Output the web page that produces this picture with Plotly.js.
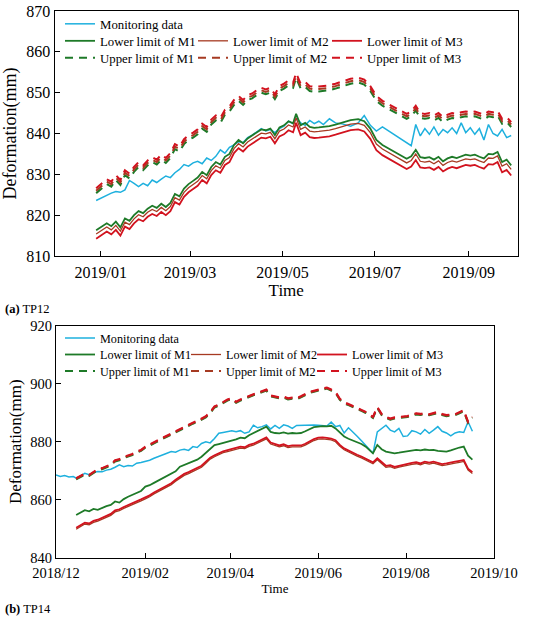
<!DOCTYPE html>
<html><head><meta charset="utf-8">
<script src="https://cdn.plot.ly/plotly-3.0.1.min.js"></script>
<style>html,body{margin:0;padding:0;background:#fff}#chart{width:550px;height:618px}</style>
</head><body><div id="chart"></div>
<script>
// ---------- Panel (a) TP12 ----------
const datesA = ["2018-12-29",
"2019-01-02","2019-01-05","2019-01-08","2019-01-11","2019-01-14","2019-01-17","2019-01-20","2019-01-23","2019-01-26","2019-01-29",
"2019-02-01","2019-02-04","2019-02-07","2019-02-10","2019-02-13","2019-02-16","2019-02-19","2019-02-22","2019-02-25","2019-02-28",
"2019-03-03","2019-03-06","2019-03-09","2019-03-12","2019-03-15","2019-03-18","2019-03-21","2019-03-24","2019-03-27","2019-03-30",
"2019-04-02","2019-04-05","2019-04-08","2019-04-11","2019-04-14","2019-04-17","2019-04-20","2019-04-23","2019-04-26","2019-04-29",
"2019-05-02","2019-05-05","2019-05-08","2019-05-10","2019-05-13","2019-05-16","2019-05-19","2019-05-22","2019-05-25","2019-05-28",
"2019-06-01","2019-06-05","2019-06-10","2019-06-15","2019-06-20","2019-06-24","2019-06-28",
"2019-07-02","2019-07-06","2019-07-10","2019-07-14","2019-07-18","2019-07-22","2019-07-25","2019-07-28","2019-07-31",
"2019-08-03","2019-08-06","2019-08-09","2019-08-12","2019-08-15","2019-08-18","2019-08-21","2019-08-24","2019-08-27","2019-08-30",
"2019-09-02","2019-09-05","2019-09-08","2019-09-11","2019-09-14","2019-09-17","2019-09-20","2019-09-23","2019-09-26","2019-09-29"];

const monA = [823.6,824.4,825.0,825.4,825.8,825.6,826.2,828.5,827.8,827.0,
827.8,827.2,828.6,828.0,828.8,829.6,829.2,830.4,831.2,832.4,
832.0,832.8,833.2,832.6,834.0,833.4,834.4,836.0,835.2,836.6,
837.2,838.0,837.8,839.0,839.6,840.4,841.2,840.6,841.0,840.2,
841.2,841.8,843.0,842.4,843.8,842.6,842.0,843.2,842.4,843.0,
842.2,843.6,842.6,842.3,841.8,842.6,844.4,842.0,840.6,841.6,
840.6,839.7,838.7,837.7,837.0,842.2,839.4,841.2,839.8,841.6,
839.6,841.0,840.2,841.4,840.0,842.6,840.2,841.4,839.8,841.2,
838.4,842.2,840.0,839.4,841.0,839.0,839.5];

const lowM1A = [816.3,817.2,818.0,817.3,818.4,817.0,819.2,818.6,820.0,821.0,
820.5,821.6,822.3,821.8,822.8,822.0,823.0,825.2,824.6,826.5,
827.6,828.4,829.2,830.6,829.8,831.8,833.0,832.4,834.3,835.0,
837.2,838.4,837.6,838.8,839.5,840.3,841.0,840.8,841.2,839.6,
841.5,842.0,843.0,842.5,844.8,842.0,842.6,841.6,841.4,841.5,
841.6,841.8,842.2,842.7,843.3,843.5,843.0,841.2,838.4,837.2,
836.3,835.4,834.5,833.8,834.4,836.0,834.2,834.0,834.2,833.6,
834.3,833.2,833.9,834.3,834.0,834.5,834.8,834.6,834.8,834.3,
833.9,835.0,834.9,835.5,833.0,833.6,832.2];

const lowM2A = [815.4,816.3,817.1,816.4,817.5,816.1,818.3,817.7,819.1,820.1,
819.6,820.7,821.4,820.9,821.9,821.1,822.1,824.3,823.7,825.6,
826.7,827.5,828.3,829.7,828.9,830.9,832.1,831.5,833.4,834.1,
836.3,837.5,836.7,837.9,838.6,839.4,840.1,839.9,840.3,838.7,
840.6,841.1,842.1,841.6,843.8,841.0,841.6,840.6,840.4,840.5,
840.6,840.8,841.2,841.7,842.3,842.5,842.0,840.2,837.4,836.2,
835.3,834.4,833.5,832.8,833.4,835.0,833.2,833.0,833.2,832.6,
833.3,832.2,832.9,833.3,833.0,833.5,833.8,833.6,833.8,833.3,
832.9,834.0,833.9,834.5,832.0,832.6,831.2];

const lowM3A = [814.2,815.2,816.0,815.3,816.4,815.0,817.2,816.6,818.0,819.0,
818.5,819.6,820.3,819.8,820.8,820.0,821.0,823.2,822.6,824.5,
825.6,826.4,827.2,828.6,827.8,829.8,831.0,830.4,832.3,833.0,
835.2,836.4,835.6,836.8,837.5,838.3,839.0,838.8,839.2,837.6,
839.3,839.8,840.8,840.3,842.6,839.6,840.2,839.1,838.9,839.0,
839.1,839.3,839.7,840.2,840.8,841.0,840.5,838.7,835.9,834.7,
833.8,832.9,832.0,831.3,831.9,833.5,831.7,831.5,831.7,831.1,
831.8,830.7,831.4,831.8,831.5,832.0,832.3,832.1,832.3,831.8,
831.4,832.5,832.4,833.0,830.5,831.1,829.7];

const upM1A = [825.4,826.6,827.6,827.0,828.6,827.4,829.8,829.0,830.6,831.8,
831.0,832.2,833.0,832.4,833.6,832.8,834.0,836.2,835.6,837.4,
838.4,839.0,839.8,841.2,840.4,842.2,843.2,842.6,844.6,845.4,
847.0,848.0,847.0,848.2,848.6,849.4,850.0,849.6,850.0,848.4,
850.4,851.0,851.8,851.2,853.6,851.0,851.4,850.4,850.2,850.3,
850.4,850.6,851.0,851.6,852.2,852.5,852.0,850.4,848.0,846.8,
846.0,845.2,844.4,843.6,844.2,845.6,843.8,843.6,843.8,843.2,
843.8,842.8,843.4,843.8,843.6,844.0,844.2,844.0,844.2,843.8,
843.4,844.2,844.0,844.4,842.4,842.8,841.6];

const upM2A = [826.0,827.2,828.2,827.6,829.2,828.0,830.4,829.6,831.2,832.4,
831.6,832.8,833.6,833.0,834.2,833.4,834.6,836.8,836.2,838.0,
839.0,839.6,840.4,841.8,841.0,842.8,843.8,843.2,845.2,846.0,
847.6,848.6,847.6,848.8,849.2,850.0,850.6,850.2,850.6,849.0,
851.0,851.6,852.4,851.8,854.2,851.6,852.0,851.0,850.8,850.9,
851.0,851.2,851.6,852.2,852.8,853.1,852.6,851.0,848.6,847.4,
846.6,845.8,845.0,844.2,844.8,846.2,844.4,844.2,844.4,843.8,
844.4,843.4,844.0,844.4,844.2,844.6,844.8,844.6,844.8,844.4,
844.0,844.8,844.6,845.0,843.0,843.4,842.2];

const upM3A = [826.6,827.8,828.8,828.2,829.8,828.6,831.0,830.2,831.8,833.0,
832.2,833.4,834.2,833.6,834.8,834.0,835.2,837.4,836.8,838.6,
839.6,840.2,841.0,842.4,841.6,843.4,844.4,843.8,845.8,846.6,
848.2,849.2,848.2,849.4,849.8,850.6,851.2,850.8,851.2,849.6,
851.6,852.2,853.0,852.4,854.8,852.2,852.6,851.6,851.4,851.5,
851.6,851.8,852.2,852.8,853.4,853.7,853.2,851.6,849.2,848.0,
847.2,846.4,845.6,844.8,845.4,846.8,845.0,844.8,845.0,844.4,
845.0,844.0,844.6,845.0,844.8,845.2,845.4,845.2,845.4,845.0,
844.6,845.4,845.2,845.6,843.6,844.0,842.8];

// ---------- Panel (b) TP14 ----------
const datesB = ["2018-12-15","2018-12-18","2018-12-21","2018-12-24","2018-12-27","2018-12-30",
"2019-01-02","2019-01-05","2019-01-08","2019-01-11","2019-01-14","2019-01-17","2019-01-20","2019-01-23","2019-01-26","2019-01-29",
"2019-02-01","2019-02-04","2019-02-07","2019-02-10","2019-02-13","2019-02-16","2019-02-19","2019-02-22","2019-02-25","2019-02-28",
"2019-03-03","2019-03-06","2019-03-09","2019-03-12","2019-03-15","2019-03-18","2019-03-21","2019-03-24","2019-03-27","2019-03-30",
"2019-04-02","2019-04-05","2019-04-08","2019-04-11","2019-04-14","2019-04-17","2019-04-20","2019-04-23","2019-04-26","2019-04-29",
"2019-05-02","2019-05-05","2019-05-08","2019-05-11","2019-05-14","2019-05-17","2019-05-20","2019-05-23","2019-05-26","2019-05-29",
"2019-06-01","2019-06-04","2019-06-07","2019-06-10","2019-06-13","2019-06-16","2019-06-19","2019-06-22","2019-06-25","2019-06-28",
"2019-07-01","2019-07-04","2019-07-07","2019-07-09","2019-07-12","2019-07-15","2019-07-18","2019-07-21","2019-07-24","2019-07-27","2019-07-30",
"2019-08-02","2019-08-05","2019-08-08","2019-08-11","2019-08-14","2019-08-17","2019-08-20","2019-08-23","2019-08-26","2019-08-29",
"2019-09-01","2019-09-04","2019-09-07","2019-09-10","2019-09-13","2019-09-16"];
const earlyMonDatesB = ["2018-12-01","2018-12-04","2018-12-07","2018-12-10","2018-12-13"];
const monDatesB = earlyMonDatesB.concat(datesB);

const monB = [868.5,868.0,868.3,867.8,868.0,
867.4,868.2,869.1,868.6,869.4,869.7,
869.6,870.2,870.5,871.2,872.0,871.4,871.8,871.6,872.6,872.8,
873.1,873.6,874.3,874.8,875.4,876.0,876.6,876.4,877.1,877.4,
877.0,878.3,878.0,879.4,880.0,879.6,881.1,882.9,883.2,883.6,
883.8,883.4,883.8,882.9,883.4,885.7,884.8,885.2,885.8,884.4,
885.6,884.6,885.8,885.4,884.6,885.6,885.7,885.7,885.7,885.8,
885.7,885.6,885.4,886.8,885.2,885.6,883.0,884.8,883.5,881.9,
880.3,878.7,877.1,876.0,883.4,884.6,885.7,884.0,883.4,884.6,881.8,
882.0,883.8,883.4,882.6,884.2,882.9,884.0,885.2,883.6,883.0,
882.0,883.0,883.4,883.2,886.9,883.6];

const lowM1B = [854.7,855.6,856.4,856.0,856.8,856.5,
857.2,857.8,858.2,859.4,859.0,860.2,861.0,861.6,862.4,863.0,
864.5,865.0,865.8,866.6,867.2,868.2,869.0,869.8,871.4,872.0,
872.5,873.2,873.8,874.8,876.2,877.4,878.8,879.2,879.6,879.9,
880.2,880.8,881.4,881.2,882.2,882.9,883.6,884.4,885.2,883.4,
883.0,882.9,883.2,882.8,883.0,882.9,883.0,883.6,884.4,885.0,
885.2,885.4,885.3,885.5,884.6,883.2,881.8,881.0,880.4,880.0,
879.2,878.3,877.0,876.0,878.9,877.4,876.6,876.4,876.0,876.2,876.4,
876.6,876.8,877.2,877.0,877.3,877.1,877.2,876.8,876.6,876.6,
877.0,877.6,878.0,878.3,875.2,873.8];

const lowM2B = [849.8,850.8,851.6,851.3,852.2,852.6,
853.2,854.0,854.6,855.8,856.2,857.0,857.6,858.2,859.0,859.6,
860.3,861.0,862.0,862.8,863.6,864.4,865.2,866.4,867.4,868.4,
869.0,869.8,870.6,871.2,872.6,874.0,874.8,875.6,876.2,876.6,
877.0,877.2,877.8,877.6,878.4,878.8,879.6,880.4,881.0,879.2,
878.8,878.2,878.6,878.0,878.2,878.1,878.2,878.8,879.6,880.4,
880.9,881.0,880.8,880.6,880.0,878.4,877.2,876.4,875.6,875.0,
874.4,873.6,872.8,872.4,873.8,872.4,871.2,871.4,870.8,871.2,871.6,
871.8,872.2,872.4,872.0,872.6,872.3,872.6,872.2,871.8,872.0,
872.4,872.6,872.9,873.2,870.2,869.0];

const lowM3B = [850.3,851.3,852.1,851.8,852.7,853.1,
853.7,854.5,855.1,856.3,856.7,857.5,858.1,858.7,859.5,860.1,
860.8,861.5,862.5,863.3,864.1,864.9,865.7,866.9,867.9,868.9,
869.5,870.3,871.1,871.7,873.1,874.5,875.3,876.1,876.7,877.1,
877.5,877.7,878.3,878.1,878.9,879.3,880.1,880.9,881.5,879.7,
879.3,878.7,879.1,878.5,878.7,878.6,878.7,879.3,880.1,880.9,
881.4,881.5,881.3,881.1,880.5,878.9,877.7,876.9,876.1,875.5,
874.9,874.1,873.3,872.9,874.3,872.9,871.7,871.9,871.3,871.7,872.1,
872.3,872.7,872.9,872.5,873.1,872.8,873.1,872.7,872.3,872.5,
872.9,873.1,873.4,873.7,870.7,869.5];

const upM1B = [867.0,867.8,868.6,868.2,869.2,870.2,
870.5,871.2,871.8,873.2,873.6,874.4,874.8,875.4,876.2,876.8,
877.9,878.6,879.4,880.2,881.0,881.6,882.4,883.2,884.0,884.8,
885.4,886.2,886.8,887.6,888.4,889.8,891.8,892.4,893.2,894.2,
894.6,893.4,894.2,894.9,895.4,896.0,896.6,897.0,897.6,895.6,
895.2,894.9,895.2,894.6,894.8,894.6,895.3,896.0,896.8,897.2,
897.6,898.0,898.3,897.6,896.8,894.4,893.2,892.6,892.0,891.2,
890.6,889.9,889.0,888.2,891.6,889.2,888.2,887.6,888.0,888.2,888.4,
888.5,889.0,889.4,889.2,889.5,889.1,889.6,889.9,889.2,888.8,
889.0,889.1,889.8,890.5,886.5,888.2];

const upM2B = [867.2,868.0,868.9,868.4,869.4,870.4,
870.8,871.4,872.0,873.4,873.9,874.6,875.0,875.6,876.4,877.0,
878.1,878.8,879.6,880.4,881.2,881.8,882.6,883.4,884.2,885.0,
885.6,886.4,887.0,887.8,888.6,890.0,892.0,892.6,893.4,894.4,
894.8,893.6,894.4,895.1,895.6,896.2,896.8,897.2,897.8,895.8,
895.4,895.1,895.4,894.8,895.0,894.8,895.5,896.2,897.0,897.4,
897.8,898.2,898.5,897.8,897.0,894.6,893.4,892.8,892.2,891.4,
890.8,890.1,889.2,888.4,891.8,889.4,888.4,887.8,888.2,888.4,888.6,
888.7,889.2,889.6,889.4,889.7,889.3,889.8,890.1,889.4,889.0,
889.2,889.3,890.0,890.7,886.7,888.4];

const upM3B = [867.4,868.2,869.0,868.6,869.6,870.6,
870.9,871.6,872.2,873.6,874.0,874.8,875.2,875.8,876.6,877.2,
878.3,879.0,879.8,880.6,881.4,882.0,882.8,883.6,884.4,885.2,
885.8,886.6,887.2,888.0,888.8,890.2,892.2,892.8,893.6,894.6,
895.0,893.8,894.6,895.3,895.8,896.4,897.0,897.4,898.0,896.0,
895.6,895.3,895.6,895.0,895.2,895.0,895.7,896.4,897.2,897.6,
898.0,898.4,898.7,898.0,897.2,894.8,893.6,893.0,892.4,891.6,
891.0,890.3,889.4,888.6,892.0,889.6,888.6,888.0,888.4,888.6,888.8,
888.9,889.4,889.8,889.6,889.9,889.5,890.0,890.3,889.6,889.2,
889.4,889.5,890.2,890.9,886.9,888.6];

const seriesNames = ["Monitoring data","Lower limit of M1","Lower limit of M2","Lower limit of M3",
                     "Upper limit of M1","Upper limit of M2","Upper limit of M3"];
const panelLabels = ["<b>(a)</b> TP12","<b>(b)</b> TP14"];

// ---------- styling ----------
const C_MON = '#1eb0de', C_M1 = '#1e7a28', C_M2 = '#a63a22', C_M3 = '#d2131f';
const FONT = 'Liberation Serif';
const DASH = '8px,6px';

function tr(x, y, name, color, width, dash, xa, ya, leg) {
  return {type:'scatter', mode:'lines', x:x, y:y, name:name, xaxis:xa, yaxis:ya,
          legend:leg, showlegend:true, line:{color:color, width:width, dash:dash}};
}

const data = [
  tr(datesA, monA,   seriesNames[0], C_MON, 1.5, 'solid', 'x', 'y', 'legend'),
  tr(datesA, lowM1A, seriesNames[1], C_M1, 1.8, 'solid', 'x', 'y', 'legend2'),
  tr(datesA, lowM2A, seriesNames[2], C_M2, 1.3, 'solid', 'x', 'y', 'legend3'),
  tr(datesA, lowM3A, seriesNames[3], C_M3, 1.8, 'solid', 'x', 'y', 'legend4'),
  tr(datesA, upM1A,  seriesNames[4], C_M1, 2, DASH, 'x', 'y', 'legend5'),
  tr(datesA, upM2A,  seriesNames[5], C_M2, 2, DASH, 'x', 'y', 'legend6'),
  tr(datesA, upM3A,  seriesNames[6], C_M3, 2, DASH, 'x', 'y', 'legend7'),

  tr(monDatesB, monB, seriesNames[0], C_MON, 1.5, 'solid', 'x2', 'y2', 'legend8'),
  tr(datesB, lowM1B, seriesNames[1], C_M1, 1.8, 'solid', 'x2', 'y2', 'legend9'),
  tr(datesB, lowM2B, seriesNames[2], C_M2, 1.3, 'solid', 'x2', 'y2', 'legend10'),
  tr(datesB, lowM3B, seriesNames[3], C_M3, 1.8, 'solid', 'x2', 'y2', 'legend11'),
  tr(datesB, upM1B,  seriesNames[4], C_M1, 2, DASH, 'x2', 'y2', 'legend12'),
  tr(datesB, upM2B,  seriesNames[5], C_M2, 2, DASH, 'x2', 'y2', 'legend13'),
  tr(datesB, upM3B,  seriesNames[6], C_M3, 2, DASH, 'x2', 'y2', 'legend14')
];

const W = 550, H = 618;
function px(x) { return x / W; }
function py(y) { return 1 - y / H; }

function legendCfg(xPix, yPix, size) {
  return {x:px(xPix), y:py(yPix), xanchor:'left', yanchor:'middle', orientation:'h',
          font:{family:FONT, size:size, color:'#000'}, bgcolor:'rgba(0,0,0,0)', borderwidth:0,
          itemwidth:30, tracegroupgap:0};
}

function xAx(domain, anchor, range, tick0, tsize, tTitle, standoff) {
  return {domain:domain, anchor:anchor, type:'date', range:range, tick0:tick0, dtick:'M2',
          tickformat:'%Y/%m', ticks:'inside', ticklen:5, tickcolor:'#000', tickwidth:1,
          showline:true, linecolor:'#000', linewidth:1, mirror:true, showgrid:false, zeroline:false,
          automargin:false, ticklabelstandoff:2, tickfont:{family:FONT, size:tsize, color:'#000'},
          title:{text:'Time', font:{family:FONT, size:tTitle, color:'#000'}, standoff:standoff}};
}
function yAx(domain, anchor, range, dtick, tsize, tTitle) {
  return {domain:domain, anchor:anchor, range:range, dtick:dtick, ticks:'inside', ticklen:5,
          tickcolor:'#000', tickwidth:1, showline:true, linecolor:'#000', linewidth:1, mirror:true,
          showgrid:false, zeroline:false, automargin:false,
          tickfont:{family:FONT, size:tsize, color:'#000'},
          title:{text:'Deformation(mm)', font:{family:FONT, size:tTitle, color:'#000'}, standoff:4}};
}

// legend entry anchor points [x, y] in pixels (left of line sample, row centre)
const legA = [[60,24],[60,41],[193,41],[327,41],[60,58],[193,58],[327,58]];
const legB = [[60,338],[60,354.5],[186,354.5],[312,354.5],[60,371],[186,371],[312,371]];

const layout = {
  width:W, height:H, margin:{l:0, r:0, t:0, b:0}, paper_bgcolor:'#fff', plot_bgcolor:'#fff',
  font:{family:FONT, color:'#000'},
  xaxis:  xAx([px(54.5), px(518)], 'y',  ['2018-12-01 12:00','2019-10-03 12:00'], '2019-01-01', 16, 17, 0),
  yaxis:  yAx([py(256), py(11)], 'x', [810, 870], 10, 16, 18),
  xaxis2: xAx([px(56), px(494)], 'y2', ['2018-12-01','2019-10-01'], '2018-12-01', 14.5, 13, 3),
  yaxis2: yAx([py(557.7), py(325.7)], 'x2', [840, 920], 20, 14.5, 17),
  annotations: [
    {xref:'paper', yref:'paper', x:px(3), y:py(309), xanchor:'left', yanchor:'middle', showarrow:false,
     text:panelLabels[0], font:{family:FONT, size:12.5, color:'#000'}},
    {xref:'paper', yref:'paper', x:px(3), y:py(609), xanchor:'left', yanchor:'middle', showarrow:false,
     text:panelLabels[1], font:{family:FONT, size:12.5, color:'#000'}}
  ],
  showlegend:true
};
legA.forEach(function(p, i){ layout[i === 0 ? 'legend' : 'legend' + (i + 1)] = legendCfg(p[0], p[1], 12.8); });
legB.forEach(function(p, i){ layout['legend' + (i + 8)] = legendCfg(p[0], p[1], 12.2); });

Plotly.newPlot('chart', data, layout, {displayModeBar:false, staticPlot:true});
</script>
</body></html>
